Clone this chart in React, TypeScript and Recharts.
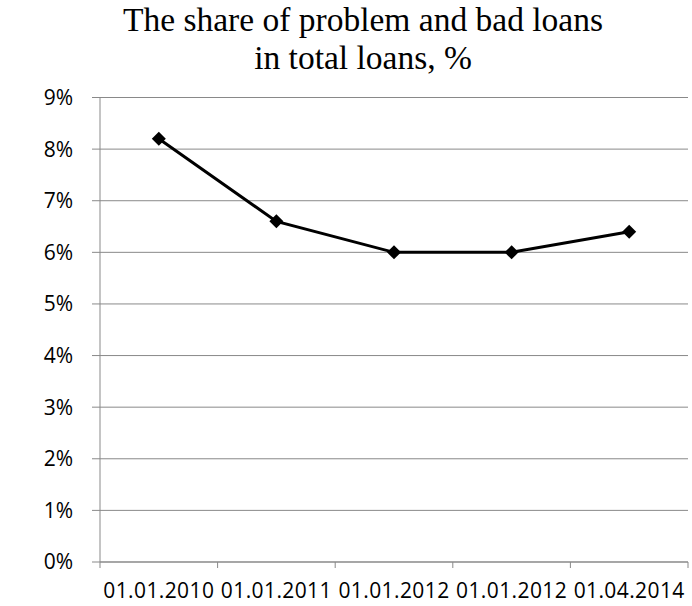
import { LineChart, Line, XAxis, YAxis, CartesianGrid } from 'recharts';

const categories = ['01.01.2010', '01.01.2011', '01.01.2012', '01.01.2012', '01.04.2014'];
const shares = [8.2, 6.6, 6.0, 6.0, 6.4];
const yTicks = [0, 1, 2, 3, 4, 5, 6, 7, 8, 9];
const titleLines = ['The share of problem and bad loans', 'in total loans, %'];

const GRID = '#898989';
const LABEL_FONT = '"Open Sans", "Noto Sans", sans-serif';

const data = categories.map((date, i) => ({ key: `${date}-${i}`, date, share: shares[i] }));

const Diamond = ({ cx, cy }: any) => {
  if (cx == null || cy == null) return null;
  const r = 7;
  return (
    <polygon
      points={`${cx},${cy - r} ${cx + r},${cy} ${cx},${cy + r} ${cx - r},${cy}`}
      fill="#000"
    />
  );
};

// label at the category centre, tick marks on the category boundaries (Excel style)
const CategoryTick = ({ x, y, payload }: any) => {
  const label = data[payload.index]?.date ?? '';
  const half = payload.offset ?? 0;
  const axisY = y - 21; // tickSize + tickMargin
  const isLast = payload.index === data.length - 1;
  return (
    <g>
      {half > 0 && <line x1={x - half} x2={x - half} y1={axisY} y2={axisY + 6} stroke={GRID} />}
      {half > 0 && isLast && <line x1={x + half} x2={x + half} y1={axisY} y2={axisY + 6} stroke={GRID} />}
      <text
        x={x}
        y={y}
        dy="0.71em"
        textAnchor="middle"
        fill="#000"
        fontSize={21}
        fontFamily={LABEL_FONT}
        letterSpacing={0.4}
      >
        {label}
      </text>
    </g>
  );
};

export default function App() {
  return (
    <div style={{ position: 'absolute', left: 0, top: 0, width: 692, height: 606, background: '#fff' }}>
      <div
        style={{
          position: 'absolute',
          top: 1,
          left: 0,
          width: 692,
          paddingLeft: 34,
          boxSizing: 'border-box',
          textAlign: 'center',
          fontFamily: '"Liberation Serif", serif',
          fontSize: 33.5,
          lineHeight: '38px',
          color: '#000',
        }}
      >
        {titleLines.map((t) => (
          <div key={t}>{t}</div>
        ))}
      </div>
      <LineChart width={692} height={606} data={data} margin={{ top: 97.5, right: 4, bottom: 0, left: 0 }}>
        <CartesianGrid vertical={false} stroke={GRID} strokeWidth={1} />
        <XAxis
          dataKey="key"
          scale="band"
          interval={0}
          axisLine={{ stroke: GRID }}
          tickLine={false}
          tickSize={6}
          tickMargin={15}
          tick={<CategoryTick />}
          height={44}
        />
        <YAxis
          domain={[0, 9]}
          ticks={yTicks}
          interval={0}
          width={100}
          axisLine={{ stroke: GRID }}
          tickLine={{ stroke: GRID }}
          tickSize={8}
          tickMargin={19}
          tickFormatter={(v: number) => `${v}%`}
          tick={{ fill: '#000', fontSize: 21, fontFamily: LABEL_FONT }}
        />
        <Line
          type="linear"
          dataKey="share"
          stroke="#000"
          strokeWidth={3}
          dot={<Diamond />}
          activeDot={false}
          isAnimationActive={false}
        />
      </LineChart>
    </div>
  );
}
